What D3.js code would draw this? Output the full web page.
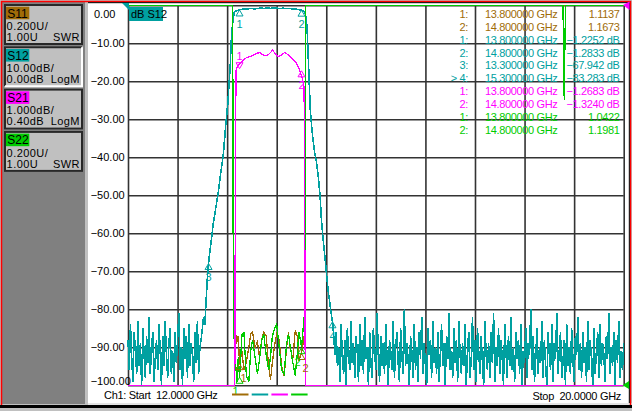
<!DOCTYPE html>
<html>
<head>
<meta charset="utf-8">
<script src="https://cdn.jsdelivr.net/npm/d3@7"></script>
<style>
  html, body { margin: 0; padding: 0; background: #c0c0c0; }
  svg { display: block; font-family: "Liberation Sans", Arial, sans-serif; }
</style>
</head>
<body>
<svg id="vna" width="632" height="411"></svg>
<script>
// channel setup boxes on the left
const channels = ["S11", "S12", "S21", "S22"]
const chScale = ["0.200U/", "10.00dB/", "1.000dB/", "0.200U/"]
const chRef = ["1.00U", "0.00dB", "0.40dB", "1.00U"]
const chFormat = ["SWR", "LogM", "LogM", "SWR"]
const activeCh = "S12"

// sweep, GHz
const freqStart = 12
const freqStop = 20
const yTicks = [0, -10, -20, -30, -40, -50, -60, -70, -80, -90, -100]

// S12 (dB) noise floor, 12.00 .. 13.22 GHz
const s12NoiseLow = [
  -88, -96, -84, -93, -99, -86, -91, -97, -83, -95, -89, -100, -85, -92, -98, -87, -94, -82, -97, -90,
  -86, -99, -93, -88, -96, -84, -91, -100, -87, -95, -83, -92, -98, -89, -85, -97, -91, -99, -86, -94,
  -88, -81, -96, -90, -100, -85, -93, -87, -98, -84, -95, -89, -92, -99, -86, -94, -83, -97, -90, -88,
  -85, -82
]
// S12 filter response [GHz, dB]
const s12Band = [
  [13.24, -84], [13.26, -78], [13.28, -72], [13.30, -67.9], [13.32, -65], [13.35, -61], [13.38, -57],
  [13.42, -53], [13.45, -50], [13.49, -45], [13.54, -39], [13.58, -31], [13.61, -26], [13.65, -16],
  [13.67, -8], [13.695, -4], [13.715, -1.9], [13.75, -1.4], [13.80, -1.2], [13.85, -1.05], [13.90, -0.95],
  [13.95, -0.9], [14.00, -0.85], [14.05, -0.95], [14.10, -0.8], [14.15, -0.75], [14.20, -0.85],
  [14.25, -0.7], [14.30, -0.8], [14.35, -0.65], [14.40, -0.75], [14.45, -0.85], [14.50, -0.75],
  [14.55, -0.85], [14.60, -0.8], [14.65, -0.95], [14.70, -1.0], [14.75, -1.1], [14.80, -1.28],
  [14.84, -1.6], [14.86, -2.3], [14.875, -3.2], [14.89, -6], [14.91, -14], [14.94, -27], [14.97, -33],
  [15.01, -38.6], [15.04, -41], [15.07, -45], [15.10, -50], [15.12, -56], [15.14, -60], [15.17, -65],
  [15.20, -70], [15.23, -75], [15.27, -80], [15.30, -83.3], [15.32, -87], [15.34, -92]
]
// S12 (dB) noise floor, 15.36 .. 20.00 GHz
const s12NoiseHigh = [
  -86, -95, -90, -99, -84, -93, -97, -88, -100, -85, -92, -96, -83, -94, -89, -98, -87, -91, -99, -84,
  -95, -88, -97, -82, -93, -90, -100, -86, -94, -98, -85, -91, -96, -81, -92, -99, -87, -95, -89, -97,
  -84, -93, -100, -88, -91, -96, -83, -98, -90, -86, -94, -99, -85, -92, -97, -80, -95, -89, -93, -100,
  -87, -91, -98, -84, -96, -90, -99, -86, -93, -82, -97, -89, -95, -100, -85, -92, -88, -98, -83, -94,
  -90, -97, -86, -99, -92, -84, -95, -89, -100, -87, -93, -81, -96, -91, -98, -85, -94, -88, -99, -83,
  -92, -97, -89, -95, -84, -100, -90, -86, -98, -93, -82, -96, -88, -99, -85, -91, -97, -87, -94, -100,
  -83, -92, -96, -89, -98, -86, -94, -81, -99, -90, -95, -85, -97, -88, -93, -100, -84, -91, -98, -87,
  -95, -82, -96, -90, -99, -86, -93, -88, -97, -84, -100, -91, -94, -85, -98, -89, -92, -80, -96, -87,
  -99, -93, -85, -97, -90, -94, -83, -98, -88, -95, -100, -86, -92, -96, -84, -99, -89, -93, -81, -97,
  -91, -86, -98, -94, -88, -100, -84, -95, -90, -97, -85, -93, -99, -87, -92, -82, -96, -89, -98, -86,
  -94, -90, -99, -83, -96, -88, -93, -100, -85, -97, -91, -86, -98, -84, -95, -89, -92, -99, -87, -93,
  -81, -97, -90, -95, -86, -100, -88, -94, -83, -98, -91, -96, -89
]
// S21 [GHz, dB]
const s21Trace = [
  [12.0, -60], [13.715, -60], [13.725, -9], [13.735, -3], [13.745, -1.3], [13.77, -1.2], [13.80, -1.15],
  [13.85, -1.05], [13.92, -0.97], [13.97, -0.95], [14.02, -0.91], [14.09, -0.86], [14.13, -0.84],
  [14.18, -0.91], [14.24, -0.93], [14.29, -0.86], [14.335, -0.78], [14.37, -0.86], [14.43, -0.95],
  [14.48, -0.91], [14.53, -0.84], [14.59, -0.91], [14.64, -1.0], [14.70, -1.08], [14.75, -1.22],
  [14.79, -1.4], [14.82, -1.57], [14.84, -1.74], [14.85, -3], [14.857, -8], [14.862, -60], [20.0, -60]
]
// S11 [GHz, SWR]
const s11Trace = [
  [12.0, 4], [13.69, 4], [13.70, 1.34], [13.73, 1.32], [13.75, 1.22], [13.78, 1.26], [13.80, 1.11],
  [13.84, 1.18], [13.87, 1.08], [13.91, 1.12], [13.95, 1.20], [13.98, 1.27], [14.01, 1.28], [14.05, 1.20],
  [14.09, 1.23], [14.12, 1.15], [14.16, 1.24], [14.19, 1.28], [14.23, 1.26], [14.27, 1.10], [14.30, 1.03],
  [14.33, 1.12], [14.37, 1.22], [14.40, 1.27], [14.44, 1.24], [14.48, 1.10], [14.52, 1.05], [14.56, 1.20],
  [14.59, 1.28], [14.62, 1.19], [14.66, 1.14], [14.70, 1.29], [14.73, 1.26], [14.76, 1.13], [14.80, 1.17],
  [14.84, 1.25], [14.86, 1.30], [14.87, 4], [20.0, 4]
]
// S22 [GHz, SWR]
const s22Trace = [
  [12.0, 4], [13.69, 4], [13.70, 1.30], [13.72, 1.22], [13.74, 1.10], [13.76, 1.02], [13.78, 1.15],
  [13.80, 1.04], [13.84, 1.27], [13.87, 1.28], [13.91, 1.05], [13.95, 1.02], [13.98, 1.18], [14.01, 1.24],
  [14.05, 1.15], [14.09, 1.06], [14.12, 1.13], [14.16, 1.24], [14.19, 1.27], [14.23, 1.16], [14.27, 1.08],
  [14.30, 1.15], [14.33, 1.26], [14.37, 1.30], [14.40, 1.32], [14.44, 1.20], [14.48, 1.08], [14.52, 1.06],
  [14.56, 1.22], [14.59, 1.27], [14.62, 1.20], [14.66, 1.12], [14.70, 1.05], [14.73, 1.16], [14.76, 1.28],
  [14.80, 1.20], [14.84, 1.35], [14.86, 1.40], [14.87, 4], [19.02, 4], [19.04, 2.5], [19.06, 4], [20.0, 4]
]

// markers
const markerFreq = [13.8, 14.8, 13.3, 15.3]
const s11Marks = [1.1137, 1.1673]
const s12Marks = [-1.2252, -1.2833, -67.942, -83.283]
const s21Marks = [-1.2683, -1.3240]
const s22Marks = [1.0422, 1.1981]
const activeMarker = 4

const colourMap = { S11: "#a06c08", S12: "#00a0a0", S21: "#ff00ff", S22: "#00cc00" }

let svg = d3.select("#vna")

// window frame
svg.append("rect").attr("x", 0).attr("y", 0).attr("width", 632).attr("height", 411).attr("fill", "#c0c0c0")
svg.append("rect").attr("x", 2).attr("y", 2).attr("width", 83).attr("height", 402).attr("fill", "#808080")
svg.append("rect").attr("x", 85).attr("y", 2).attr("width", 3).attr("height", 402).attr("fill", "#c0c0c0")
svg.append("rect").attr("x", 88).attr("y", 3).attr("width", 541).attr("height", 400).attr("fill", "#ffffff")
svg.append("rect").attr("x", 0).attr("y", 405).attr("width", 632).attr("height", 3).attr("fill", "#000")
svg.append("rect").attr("x", 88).attr("y", 403).attr("width", 544).attr("height", 2).attr("fill", "#e4e4e4")
svg.append("path").attr("d", "M1.5,405 V1.5 H630.5 V405").attr("fill", "none").attr("stroke", "#ff0000").attr("stroke-width", 1.5)
svg.append("path").attr("d", "M88,2.7 H629.3 V403").attr("fill", "none").attr("stroke", "#000").attr("stroke-width", 1)

// channel boxes
let boxes = svg.selectAll("g.chbox")
  .data(channels)
  .enter().append("g")
  .attr("class", "chbox")
  .attr("transform", (d, i) => `translate(4,${4 + i * 42.3})`)

boxes.append("rect").attr("width", 79).attr("height", 41).attr("fill", "#c0c0c0")
boxes.filter(d => d !== activeCh).append("rect")
  .attr("x", 1).attr("y", 1).attr("width", 77).attr("height", 39)
  .attr("fill", "none").attr("stroke", "#282828").attr("stroke-width", 2)
boxes.filter(d => d === activeCh).append("path")
  .attr("d", "M1,40 V1 H78").attr("fill", "none").attr("stroke", "#282828").attr("stroke-width", 2)
boxes.filter(d => d === activeCh).append("path")
  .attr("d", "M78,1 V40 H1").attr("fill", "none").attr("stroke", "#ffffff").attr("stroke-width", 2)
boxes.append("rect")
  .attr("x", 2).attr("y", 2.7).attr("width", 23.3).attr("height", 12.6)
  .attr("fill", d => colourMap[d])
boxes.append("text").attr("x", 3.3).attr("y", 13.6).attr("font-size", 12).text(d => d)
let boxText = boxes.append("g").attr("font-size", 11).attr("letter-spacing", "0.45px")
boxText.append("text").attr("x", 2.6).attr("y", 25.7).text((d, i) => chScale[i])
boxText.append("text").attr("x", 2.6).attr("y", 36.9).text((d, i) => chRef[i])
boxText.append("text").attr("x", 76).attr("y", 36.9)
  .attr("text-anchor", "end").text((d, i) => chFormat[i])

// plot area
const gLeft = 128, gRight = 623.7, gTop = 5.3, gBottom = 385.3

let x = d3.scaleLinear().domain([freqStart, freqStop]).range([gLeft, gRight])
let yDb = d3.scaleLinear().domain([-100, 0]).range([gBottom, gTop]).clamp(true)
let yS21 = d3.scaleLinear().domain([-9.6, 0.4]).range([gBottom, gTop]).clamp(true)
let ySwr = d3.scaleLinear().domain([1, 3]).range([gBottom, gTop]).clamp(true)
const yFor = { S11: ySwr, S12: yDb, S21: yS21, S22: ySwr }

let xGrid = svg.append("g")
  .attr("transform", `translate(0,${gBottom})`)
  .call(d3.axisBottom(x)
    .tickValues(d3.range(11).map(i => freqStart + i * (freqStop - freqStart) / 10))
    .tickSize(-(gBottom - gTop)).tickFormat(""))
let yGrid = svg.append("g")
  .attr("transform", `translate(${gLeft},0)`)
  .call(d3.axisLeft(yDb).tickValues(yTicks).tickSize(-(gRight - gLeft)).tickFormat(""))
;[xGrid, yGrid].forEach(g => {
  g.select(".domain").remove()
  g.selectAll("line").attr("stroke", "#333").attr("stroke-width", 1.6)
})

// y labels, sign column kept like the instrument
let fmt2 = d3.format(".2f")
svg.selectAll("text.ylab")
  .data(yTicks)
  .enter().append("text")
  .attr("class", "ylab")
  .attr("x", d => d < 0 ? 90.7 : 94)
  .attr("y", d => d === 0 ? 17.5 : d === -100 ? 384.5 : yDb(d) + 4)
  .attr("font-size", 11)
  .text(d => fmt2(d))

// channel tag inside grid
svg.append("rect").attr("x", 129).attr("y", 7).attr("width", 34).attr("height", 14).attr("fill", colourMap.S12)
svg.append("text").attr("x", 131).attr("y", 18).attr("font-size", 11).text("dB S12")

// marker readout table
let rows = []
let fmtVal = d3.format(".5r")
s11Marks.forEach((v, i) => rows.push({ ch: "S11", n: i + 1, f: markerFreq[i], v: fmtVal(v) }))
s12Marks.forEach((v, i) => rows.push({ ch: "S12", n: i + 1, f: markerFreq[i], v: fmtVal(v) + " dB" }))
s21Marks.forEach((v, i) => rows.push({ ch: "S21", n: i + 1, f: markerFreq[i], v: fmtVal(v) + " dB" }))
s22Marks.forEach((v, i) => rows.push({ ch: "S22", n: i + 1, f: markerFreq[i], v: fmtVal(v) }))

let table = svg.append("g").attr("font-size", 11).attr("letter-spacing", "-0.35px")
let rowG = table.selectAll("g")
  .data(rows)
  .enter().append("g")
  .attr("fill", d => colourMap[d.ch])
  .attr("transform", (d, i) => `translate(0,${18 + i * 12.85})`)
rowG.append("text").attr("x", 468).attr("text-anchor", "end")
  .text(d => (d.ch === "S12" && d.n === activeMarker ? "> " : "") + d.n + ":")
rowG.append("text").attr("x", 485).text(d => d.f.toFixed(6) + " GHz")
rowG.append("text").attr("x", 619.5).attr("text-anchor", "end").text(d => d.v)

// traces
let lowStep = (13.22 - freqStart) / (s12NoiseLow.length - 1)
let highStep = (freqStop - 15.36) / (s12NoiseHigh.length - 1)
let s12Trace = [].concat(
  s12NoiseLow.map((v, i) => [freqStart + i * lowStep, v]),
  s12Band,
  s12NoiseHigh.map((v, i) => [15.36 + i * highStep, v])
)
const traces = [
  { ch: "S12", pts: s12Trace, w: 1.6 },
  { ch: "S11", pts: s11Trace, w: 1.3 },
  { ch: "S22", pts: s22Trace, w: 1.3 },
  { ch: "S21", pts: s21Trace, w: 1.3 }
]
svg.selectAll("path.trace")
  .data(traces)
  .enter().append("path")
  .attr("class", "trace")
  .attr("fill", "none")
  .attr("stroke", d => colourMap[d.ch])
  .attr("stroke-width", d => d.w)
  .attr("shape-rendering", "crispEdges")
  .attr("d", d => d3.line().x(p => x(p[0])).y(p => yFor[d.ch](p[1]))(d.pts))

// markers
let marks = []
s12Marks.forEach((v, i) => marks.push({ ch: "S12", n: i + 1, f: markerFreq[i], v }))
s11Marks.forEach((v, i) => marks.push({ ch: "S11", n: i + 1, f: markerFreq[i], v }))
s22Marks.forEach((v, i) => marks.push({ ch: "S22", n: i + 1, f: markerFreq[i], v }))
s21Marks.forEach((v, i) => marks.push({ ch: "S21", n: i + 1, f: markerFreq[i], v }))

let markG = svg.selectAll("g.mark")
  .data(marks)
  .enter().append("g")
  .attr("class", "mark")
  .attr("transform", d => `translate(${x(d.f)},${yFor[d.ch](d.v)})`)
  .attr("stroke", d => colourMap[d.ch])
  .attr("fill", d => colourMap[d.ch])
// S21 marker 1 sits upside down with its number above
let flipped = d => d.ch === "S21" && d.n === 1
// the two SWR channels share the bottom of the grid, spread their numbers a little
const labelShift = { S11: 4, S12: 0, S21: 0, S22: -4 }
markG.append("path")
  .attr("fill", "none").attr("stroke-width", 1)
  .attr("d", d => flipped(d) ? "M0,0 L-3.5,-6 L3.5,-6 Z" : "M0,0 L-3.5,6 L3.5,6 Z")
markG.append("text")
  .attr("stroke", "none").attr("font-size", 11).attr("text-anchor", "middle")
  .attr("x", d => labelShift[d.ch])
  .attr("y", d => {
    if (flipped(d)) return -9
    let yy = yFor[d.ch](d.v)
    return Math.min(18, 395 - yy)
  })
  .text(d => d.n)

// reference level pointers
svg.append("path").attr("d", "M122,3 H129 V10 Z").attr("fill", colourMap.S12)
svg.append("path").attr("d", "M623,5 L629.5,1.5 V10 Z").attr("fill", colourMap.S21)
svg.append("path").attr("d", `M622.5,${gBottom} L629,381 V389 Z`).attr("fill", colourMap.S22)

// footer
svg.append("text").attr("x", 104).attr("y", 399).attr("font-size", 11).attr("letter-spacing", "-0.3px")
  .attr("xml:space", "preserve").text("Ch1: Start  12.0000 GHz")
svg.append("text").attr("x", 621).attr("y", 400).attr("font-size", 11).attr("letter-spacing", "-0.3px")
  .attr("text-anchor", "end").attr("xml:space", "preserve").text("Stop  20.0000 GHz")

svg.selectAll("line.legend")
  .data(["S11", "S12", "S21", "S22"])
  .enter().append("line")
  .attr("class", "legend")
  .attr("x1", (d, i) => 232 + i * 19.7).attr("x2", (d, i) => 248.5 + i * 19.7)
  .attr("y1", 394.5).attr("y2", 394.5)
  .attr("stroke", d => colourMap[d]).attr("stroke-width", 2)
</script>
</body>
</html>
